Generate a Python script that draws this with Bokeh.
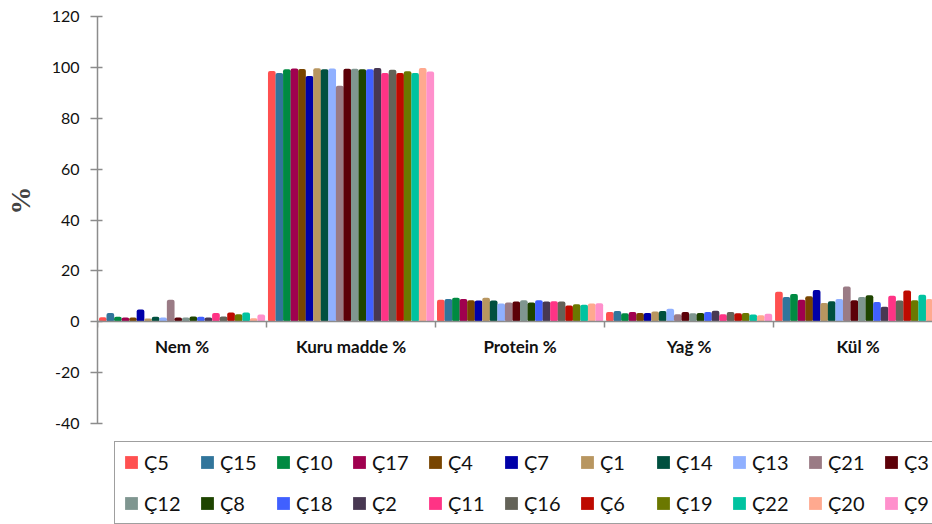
from bokeh.plotting import figure
from bokeh.models import ColumnDataSource, FixedTicker, Legend, LegendItem, Range1d
from bokeh.embed import file_html
from bokeh.resources import INLINE

categories = ["Nem %", "Kuru madde %", "Protein %", "Yağ %", "Kül %"]
samples = ["Ç5", "Ç15", "Ç10", "Ç17", "Ç4", "Ç7", "Ç1", "Ç14", "Ç13", "Ç21", "Ç3",
           "Ç12", "Ç8", "Ç18", "Ç2", "Ç11", "Ç16", "Ç6", "Ç19", "Ç22", "Ç20", "Ç9"]
nem = [1.8, 3.4, 2.0, 1.7, 1.7, 4.8, 1.3, 2.0, 1.7, 8.7, 1.7,
       1.7, 2.1, 2.0, 1.7, 3.4, 2.1, 3.6, 3.0, 3.6, 1.4, 2.9]
kuru_madde = [98.6, 97.8, 99.3, 99.6, 99.4, 96.6, 99.7, 99.3, 99.6, 92.8, 99.5,
              99.5, 99.3, 99.3, 99.8, 97.8, 99.1, 97.8, 98.5, 97.8, 99.8, 98.4]
protein = [8.7, 8.9, 9.4, 8.9, 8.5, 8.4, 9.4, 8.4, 7.2, 7.6, 8.0,
           8.5, 7.6, 8.5, 8.0, 8.1, 8.0, 6.4, 6.9, 6.7, 7.2, 7.3]
yag = [3.8, 4.2, 3.3, 3.8, 3.4, 3.4, 4.0, 4.2, 5.1, 3.0, 3.8,
       3.3, 3.4, 3.8, 4.3, 3.0, 3.8, 3.3, 3.4, 2.9, 2.6, 3.1]
kul = [11.8, 9.7, 10.9, 8.7, 10.0, 12.5, 7.4, 8.1, 8.9, 13.9, 8.5,
       9.7, 10.4, 7.8, 5.9, 10.2, 8.4, 12.3, 8.5, 10.6, 8.9, 7.0]
colors = ["#FF5050", "#31759B", "#008A42", "#A0004F", "#784500", "#0000A8", "#B89660",
          "#00503F", "#90B0FF", "#9A7B85", "#5C0008", "#7F9690", "#1E4400", "#4060FF",
          "#483852", "#FF3385", "#646358", "#BE0A00", "#6B7800", "#00C3A0", "#FFA98F", "#FF90CC"]
y_ticks = [-40, -20, 0, 20, 40, 60, 80, 100, 120]
y_title = "%"

series = [nem, kuru_madde, protein, yag, kul]

p = figure(width=932, height=524, x_range=Range1d(0, 4.94), y_range=Range1d(-79.7, 120),
           output_backend="svg", toolbar_location=None,
           min_border_left=97, min_border_right=0, min_border_top=16, min_border_bottom=0)
p.outline_line_color = None
p.xgrid.visible = False
p.ygrid.visible = False
p.background_fill_color = "white"

n = len(samples)
w = 0.982 / n
items = []
for j, s in enumerate(samples):
    xs = [i + 0.5 + (j - (n - 1) / 2) * w for i in range(len(categories))]
    tops = [series[i][j] for i in range(len(categories))]
    src = ColumnDataSource(dict(x=xs, top=tops))
    r = p.vbar(x="x", top="top", bottom=0, width=w * 1.02, source=src,
               fill_color=colors[j], line_color=None, border_radius=2)
    items.append(LegendItem(label=s, renderers=[r]))

axis_gray = "#8C8C8C"

# category axis drawn at y = 0
xa = p.xaxis[0]
xa.fixed_location = 0
xa.ticker = FixedTicker(ticks=[i + 0.5 for i in range(len(categories))],
                        minor_ticks=list(range(len(categories) + 1)))
xa.major_label_overrides = {i + 0.5: c for i, c in enumerate(categories)}
xa.major_tick_in = 0
xa.major_tick_out = 0
xa.minor_tick_in = 0
xa.minor_tick_out = 6
xa.minor_tick_line_color = axis_gray
xa.axis_line_color = axis_gray
xa.axis_line_width = 1.5
xa.minor_tick_line_width = 1.5
xa.major_label_standoff = 8
xa.major_label_text_font = "Lato"
xa.major_label_text_font_style = "bold"
xa.major_label_text_font_size = "17px"
xa.major_label_text_color = "#111111"

ya = p.yaxis[0]
ya.bounds = (y_ticks[0], y_ticks[-1])
ya.ticker = FixedTicker(ticks=y_ticks, minor_ticks=[])
ya.major_label_overrides = {t: str(t) for t in y_ticks}
ya.major_tick_in = 5
ya.major_tick_out = 7
ya.major_tick_line_color = axis_gray
ya.major_tick_line_width = 1.5
ya.axis_line_color = axis_gray
ya.axis_line_width = 1.5
ya.major_label_standoff = 11
ya.major_label_text_font = "Lato"
ya.major_label_text_font_size = "16px"
ya.major_label_text_color = "#111111"
# leading no-break spaces lift the title towards the middle of the axis bounds
ya.axis_label = "\u00a0" * 20 + y_title
ya.axis_label_text_font = "Liberation Serif"
ya.axis_label_text_font_style = "bold"
ya.axis_label_text_font_size = "28px"
ya.axis_label_standoff = 13

legend = Legend(items=items, orientation="horizontal", ncols=11,
                location=(17, 0), margin=0, padding=8, spacing=17,
                glyph_width=16, glyph_height=16, label_standoff=5,
                label_width=38, label_height=24,
                label_text_font="Lato", label_text_font_size="20px",
                label_text_color="#111111",
                border_line_color="#404040", border_line_width=1.5)
p.add_layout(legend, "center")

open("out.html", "w").write(file_html(p, INLINE))
